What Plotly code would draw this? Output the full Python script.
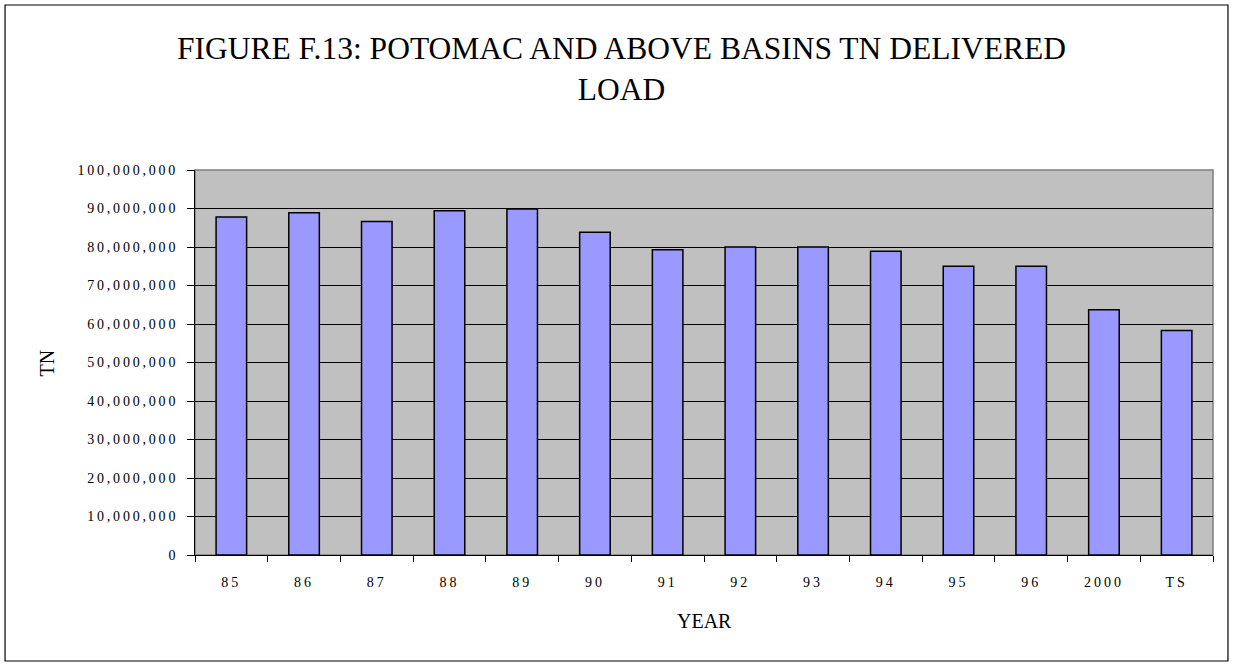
import plotly.graph_objects as go

# categories and delivered TN load
years = ["85", "86", "87", "88", "89", "90", "91", "92", "93", "94", "95", "96", "2000", "TS"]
tn_load = [87.8e6, 88.9e6, 86.6e6, 89.4e6, 89.9e6, 83.8e6, 79.3e6, 80.0e6, 80.0e6,
           78.9e6, 75.0e6, 75.0e6, 63.7e6, 58.3e6]
y_ticks = [0, 10e6, 20e6, 30e6, 40e6, 50e6, 60e6, 70e6, 80e6, 90e6, 100e6]
y_tick_text = ["0", "10,000,000", "20,000,000", "30,000,000", "40,000,000", "50,000,000",
               "60,000,000", "70,000,000", "80,000,000", "90,000,000", "100,000,000"]

serif = "Liberation Serif, Times New Roman, serif"

fig = go.Figure(go.Bar(
    x=years, y=tn_load,
    marker=dict(color="#9999FF", line=dict(color="black", width=1.5)),
    width=0.42,
))

fig.update_layout(
    width=1233, height=666,
    margin=dict(l=195, r=20, t=170, b=111),
    paper_bgcolor="white", plot_bgcolor="#C0C0C0",
    font=dict(family=serif, color="black"),
    showlegend=False,
    title=dict(
        text="FIGURE F.13: POTOMAC AND ABOVE BASINS TN DELIVERED<br>LOAD",
        x=0.504, xref="container", xanchor="center",
        y=0.911, yref="container", yanchor="middle",
        font=dict(family=serif, size=31.5, color="black"),
    ),
    # outer chart border
    shapes=[dict(type="rect", xref="paper", yref="paper",
                 x0=-0.1866, x1=1.0147, y0=-0.2753, y1=1.4286,
                 line=dict(color="black", width=1.2))],
    annotations=[
        dict(text="YEAR", xref="paper", yref="paper", x=0.5, y=-0.1714,
             showarrow=False, font=dict(size=20), xanchor="center", yanchor="middle"),
        dict(text="TN", xref="paper", yref="paper", x=-0.1454, y=0.5, textangle=-90,
             showarrow=False, font=dict(size=20), xanchor="center", yanchor="middle"),
    ],
)

fig.update_xaxes(
    type="category", tickson="boundaries", ticks="outside", ticklen=6,
    tickcolor="black", showline=True, linecolor="black", linewidth=1,
    tickfont=dict(size=14), ticklabelstandoff=14,
)
fig.update_yaxes(
    range=[0, 100e6], tickvals=y_ticks, ticktext=y_tick_text,
    ticks="outside", ticklen=7, tickcolor="black",
    showgrid=True, gridcolor="black", gridwidth=1,
    showline=True, linecolor="black", linewidth=1,
    tickfont=dict(size=14), ticklabelstandoff=6,
    zeroline=False,
)
# gray right/top edge of the plot area
fig.add_shape(type="rect", xref="paper", yref="paper", x0=0, x1=1, y0=0, y1=1,
              line=dict(color="#808080", width=1.5), layer="below")

# no page margin so the figure fills the window; wide letter spacing on tick labels
page_js = """
document.body.style.margin = '0';
var gd = document.getElementById('{plot_id}');
gd.querySelectorAll('.ytick text').forEach(function(t){ t.style.letterSpacing = '2.8px'; });
gd.querySelectorAll('.xtick text').forEach(function(t){ t.style.letterSpacing = '3px'; });
"""

fig.write_html("out.html", post_script=page_js, config={"displayModeBar": False})
